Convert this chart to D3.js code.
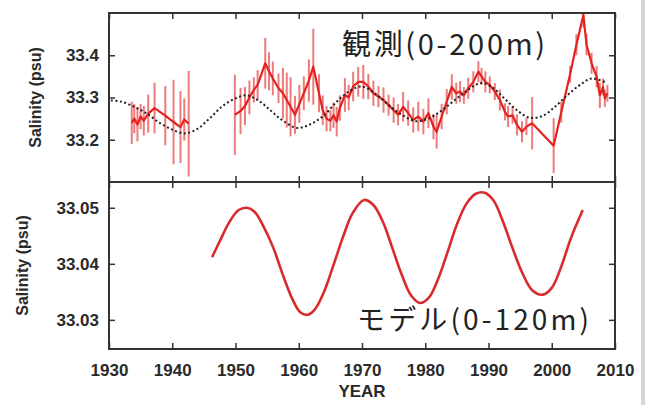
<!DOCTYPE html>
<html>
<head>
<meta charset="utf-8">
<script src="https://cdn.jsdelivr.net/npm/d3@7"></script>
<style>
  html, body { margin: 0; padding: 0; background: #fff; }
  svg { display: block; }
  .tick text { font-family: "Liberation Sans", Arial, sans-serif; font-weight: bold; font-size: 17px; fill: #2a2a2a; }
  .tick line { stroke: #333; stroke-width: 1.5; }
</style>
</head>
<body>
<svg id="chart" width="646" height="405"></svg>
<script>
// 観測 (0-200m): year, mean salinity, error half-length
var obsYear = [1933.6,1934.0,1934.5,1935.0,1935.5,1936.2,1937.2,1938.9,1940.2,1941.3,1941.9,1942.6,
  1949.9,1950.8,1951.5,1952.2,1952.9,1953.5,1954.7,1955.3,1955.9,1956.8,1957.5,1958.1,1958.7,1959.4,1960.1,1960.8,1961.6,1962.3,1963.2,1963.8,1964.4,
  1965.0,1965.5,1966.0,1966.5,1967.3,1967.9,1968.6,1969.4,1970.2,1971.0,1971.8,1972.6,1973.4,1974.2,1975.0,1975.7,1976.5,1977.3,1978.1,1978.9,1979.7,1980.5,1981.3,1981.8,1982.6,1983.4,
  1984.2,1984.9,1985.5,1986.1,1986.8,1987.6,1988.4,1988.9,1989.5,1990.2,1991.0,1991.8,1992.6,1993.1,1993.8,1994.5,1995.3,1996.0,1996.9,
  2000.3,2001.5,2002.9,2003.9,2005.0,2005.5,2006.3,2007.1,2007.6,2008.1,2008.4,2008.8];
var obsVal = [33.240,33.250,33.236,33.255,33.245,33.262,33.275,33.257,33.242,33.230,33.248,33.238,
  33.259,33.268,33.280,33.300,33.318,33.330,33.381,33.362,33.345,33.322,33.310,33.294,33.278,33.259,33.285,33.310,33.340,33.373,33.310,33.270,33.250,
  33.245,33.258,33.243,33.275,33.306,33.300,33.326,33.337,33.337,33.326,33.310,33.302,33.294,33.282,33.270,33.259,33.278,33.263,33.247,33.255,33.243,33.263,33.231,33.219,33.255,33.290,
  33.325,33.310,33.314,33.305,33.322,33.337,33.361,33.350,33.337,33.330,33.314,33.294,33.266,33.255,33.258,33.235,33.219,33.231,33.239,
  33.186,33.265,33.355,33.425,33.495,33.425,33.381,33.349,33.305,33.325,33.298,33.310];
var obsErr = [0.050,0.035,0.040,0.030,0.035,0.045,0.060,0.070,0.100,0.085,0.050,0.125,
  0.095,0.055,0.045,0.040,0.030,0.035,0.060,0.045,0.040,0.035,0.060,0.065,0.070,0.045,0.045,0.040,0.050,0.090,0.045,0.035,0.030,
  0.025,0.030,0.035,0.030,0.040,0.030,0.035,0.035,0.040,0.030,0.030,0.025,0.030,0.025,0.030,0.025,0.035,0.030,0.030,0.035,0.030,0.035,0.030,0.040,0.030,0.030,
  0.030,0.025,0.025,0.020,0.025,0.025,0.025,0.020,0.025,0.020,0.020,0.025,0.020,0.025,0.020,0.025,0.025,0.020,0.062,
  0.065,0.025,0.020,0.025,0.030,0.025,0.025,0.025,0.030,0.020,0.020,0.020];

// smoothed cycle (dotted)
var fitYear = [1930.3,1932,1934,1936,1938,1940,1942,1944,1946,1948,1950,1951.7,1953.5,1955.5,1957.5,1959.8,1962,1964,1966,1968,1970,1972,1974,1976,1978.5,1980.5,1982.5,1984.5,1986.5,1988.7,1990.5,1992.5,1994.5,1996.5,1998.5,2000.5,2002.5,2004.5,2006.3,2008.5];
var fitVal = [33.293,33.290,33.278,33.262,33.240,33.224,33.215,33.226,33.252,33.280,33.298,33.305,33.294,33.270,33.245,33.228,33.238,33.258,33.290,33.315,33.326,33.310,33.285,33.262,33.244,33.250,33.268,33.292,33.315,33.334,33.325,33.298,33.270,33.252,33.256,33.278,33.306,33.330,33.345,33.336];

// モデル (0-120m)
var modelYear = [1946.3,1947.5,1949,1950.5,1951.8,1953,1954.5,1956,1957.5,1959,1960.2,1961.3,1962.5,1964,1965.5,1967,1968.5,1970.3,1971.8,1973.3,1974.8,1976.3,1977.8,1979.2,1980.6,1982,1983.5,1985,1986.5,1988,1989.4,1990.8,1992.3,1993.8,1995.3,1996.9,1998.6,2000,2001.5,2003,2004.9];
var modelVal = [33.0412,33.0440,33.0474,33.0496,33.0500,33.0493,33.0465,33.0428,33.0380,33.0337,33.0314,33.0309,33.0318,33.0350,33.0398,33.0448,33.0490,33.0514,33.0505,33.0475,33.0428,33.0380,33.0343,33.0330,33.0340,33.0372,33.0420,33.0470,33.0507,33.0525,33.0527,33.0513,33.0475,33.0428,33.0385,33.0353,33.0345,33.0357,33.0395,33.0445,33.0496];

var xTicks = [1930,1940,1950,1960,1970,1980,1990,2000,2010];
var topTicks = [33.2,33.3,33.4];
var botTicks = [33.03,33.04,33.05];

var svg = d3.select("#chart");
var pLeft = 109, pRight = 615, pTop = 13, pMid = 182, pBottom = 349;

var x = d3.scaleLinear().domain([1930, 2010]).range([pLeft, pRight]);
var yTop = d3.scaleLinear().domain([33.1, 33.5]).range([pMid, pTop]);
var yBot = d3.scaleLinear().domain([33.0248, 33.0546]).range([pBottom, pMid]);

// light gray edge at the right of the picture
svg.append("rect").attr("x", 641).attr("y", 0).attr("width", 4).attr("height", 405).attr("fill", "#d6d6d6");

svg.append("clipPath").attr("id", "clipTop")
  .append("rect").attr("x", pLeft).attr("y", pTop).attr("width", pRight - pLeft).attr("height", pMid - pTop);

var obs = obsYear.map(function (yr, i) { return { year: yr, v: obsVal[i], e: obsErr[i] }; });

// split the series where there is a long gap in the record (1943-1949)
var segs = [[]];
obs.forEach(function (d, i) {
  if (i > 0 && d.year - obs[i - 1].year > 5) segs.push([]);
  segs[segs.length - 1].push(d);
});

var gTop = svg.append("g").attr("clip-path", "url(#clipTop)");

gTop.selectAll("line.err")
  .data(obs)
  .enter()
  .append("line")
  .attr("class", "err")
  .attr("x1", d => x(d.year)).attr("x2", d => x(d.year))
  .attr("y1", d => yTop(d.v - d.e)).attr("y2", d => yTop(d.v + d.e))
  .attr("stroke", "#e85a5a")
  .attr("stroke-opacity", 0.8)
  .attr("stroke-width", 2);

var obsLine = d3.line().x(d => x(d.year)).y(d => yTop(d.v));
gTop.selectAll("path.obs")
  .data(segs)
  .enter()
  .append("path")
  .attr("class", "obs")
  .attr("d", obsLine)
  .attr("fill", "none")
  .attr("stroke", "#e2231f")
  .attr("stroke-width", 2.2)
  .attr("stroke-linejoin", "round");

var fitLine = d3.line()
  .x((d, i) => x(fitYear[i]))
  .y(d => yTop(d))
  .curve(d3.curveCatmullRom);
gTop.append("path")
  .attr("d", fitLine(fitVal))
  .attr("fill", "none")
  .attr("stroke", "#222")
  .attr("stroke-width", 2)
  .attr("stroke-dasharray", "2,2.5");

var modelLine = d3.line()
  .x((d, i) => x(modelYear[i]))
  .y(d => yBot(d))
  .curve(d3.curveCatmullRom);
svg.append("path")
  .attr("d", modelLine(modelVal))
  .attr("fill", "none")
  .attr("stroke", "#d92b2b")
  .attr("stroke-width", 2.6);

// axes: inward ticks on all four sides of both panels
function drawAxes(y, yt, fmt, y0, y1, showX) {
  svg.append("g").attr("transform", "translate(0," + y0 + ")")
    .call(d3.axisTop(x).tickValues(xTicks).tickSize(-6).tickFormat(""));
  svg.append("g").attr("transform", "translate(0," + y1 + ")")
    .call(d3.axisBottom(x).tickValues(xTicks).tickSize(-6).tickPadding(15)
      .tickFormat(showX ? d3.format("d") : ""));
  svg.append("g").attr("transform", "translate(" + pLeft + ",0)")
    .call(d3.axisLeft(y).tickValues(yt).tickSize(-6).tickPadding(10).tickFormat(d3.format(fmt)));
  svg.append("g").attr("transform", "translate(" + pRight + ",0)")
    .call(d3.axisRight(y).tickValues(yt).tickSize(-6).tickFormat(""));
  svg.selectAll(".domain").remove();
}
drawAxes(yTop, topTicks, ".1f", pTop, pMid, false);
drawAxes(yBot, botTicks, ".2f", pMid, pBottom, true);

// frames
svg.append("rect").attr("x", pLeft).attr("y", pTop).attr("width", pRight - pLeft).attr("height", pMid - pTop)
  .attr("fill", "none").attr("stroke", "#333").attr("stroke-width", 2);
svg.append("rect").attr("x", pLeft).attr("y", pMid).attr("width", pRight - pLeft).attr("height", pBottom - pMid)
  .attr("fill", "none").attr("stroke", "#333").attr("stroke-width", 2);

var lab = { "font-family": "Liberation Sans, Arial, sans-serif", "font-weight": "bold", "font-size": "16px", "fill": "#2a2a2a" };
function label(sel) { Object.keys(lab).forEach(k => sel.attr(k, lab[k])); return sel; }

label(svg.append("text"))
  .attr("transform", "translate(41," + ((pTop + pMid) / 2) + ") rotate(-90)")
  .attr("text-anchor", "middle")
  .text("Salinity (psu)");
label(svg.append("text"))
  .attr("transform", "translate(28," + ((pMid + pBottom) / 2) + ") rotate(-90)")
  .attr("text-anchor", "middle")
  .text("Salinity (psu)");
label(svg.append("text"))
  .attr("x", (pLeft + pRight) / 2).attr("y", 397)
  .attr("font-size", "17px")
  .attr("text-anchor", "middle")
  .text("YEAR");

svg.append("text")
  .attr("x", 342).attr("y", 55)
  .attr("font-family", "Noto Sans CJK JP, sans-serif")
  .attr("font-size", "29px")
  .attr("fill", "#222")
  .attr("textLength", 203)
  .attr("lengthAdjust", "spacing")
  .text("観測(0-200m)");
svg.append("text")
  .attr("x", 357).attr("y", 330)
  .attr("font-family", "Noto Sans CJK JP, sans-serif")
  .attr("font-size", "28px")
  .attr("fill", "#222")
  .attr("textLength", 232)
  .attr("lengthAdjust", "spacing")
  .text("モデル(0-120m)");
</script>
</body>
</html>
